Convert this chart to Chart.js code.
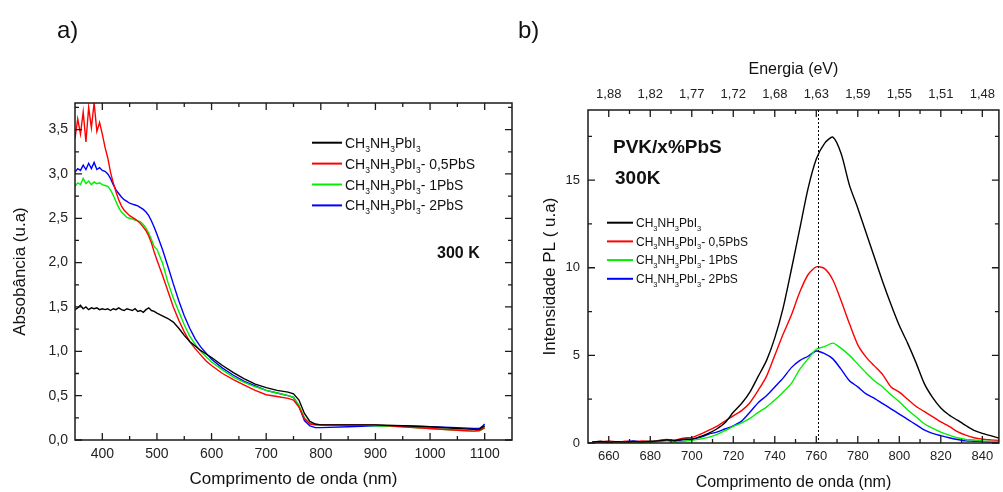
<!DOCTYPE html>
<html>
<head>
<meta charset="utf-8">
<script src="https://cdn.jsdelivr.net/npm/chart.js@4.4.1/dist/chart.umd.min.js"></script>
<style>
  html, body { margin: 0; padding: 0; background: #fff; overflow: hidden; }
  canvas { position: absolute; top: 0; }
  #absChart { left: 0; }
  #plChart { left: 505px; }
</style>
</head>
<body>
<canvas id="absChart" width="520" height="492"></canvas>
<canvas id="plChart" width="498" height="492"></canvas>
<script>
// ---- panel a) absorbance ----
var absWavelength = [350,355,360,365,370,375,380,385,390,395,400,405,410,415,420,425,430,435,440,445,
    450,455,460,465,470,475,480,485,490,495,500,510,520,530,540,550,560,570,580,590,600,
    620,640,660,680,700,720,740,750,760,770,780,790,800,850,900,950,1000,1050,1080,1090,1095,1100];
var absPure = [1.47,1.49,1.52,1.48,1.50,1.47,1.49,1.48,1.49,1.47,1.48,1.47,1.48,1.46,1.48,1.47,1.49,1.47,1.46,1.48,
    1.47,1.46,1.48,1.45,1.46,1.44,1.47,1.49,1.46,1.45,1.43,1.40,1.37,1.33,1.26,1.18,1.11,1.06,1.01,0.97,0.93,
    0.84,0.76,0.69,0.63,0.59,0.56,0.54,0.52,0.45,0.30,0.21,0.18,0.17,0.17,0.17,0.16,0.15,0.13,0.12,0.12,0.14,0.16];
var absPbS05 = [3.40,3.62,3.45,3.70,3.36,3.75,3.52,3.80,3.48,3.58,3.45,3.30,3.18,3.02,2.90,2.80,2.71,2.64,2.59,2.56,
    2.53,2.51,2.49,2.47,2.44,2.40,2.36,2.30,2.22,2.12,2.03,1.86,1.68,1.50,1.35,1.22,1.11,1.03,0.96,0.89,0.84,
    0.75,0.68,0.62,0.56,0.51,0.49,0.47,0.45,0.37,0.24,0.18,0.17,0.17,0.17,0.17,0.15,0.13,0.11,0.10,0.11,0.12,0.14];
var absPbS1 = [2.86,2.90,2.88,2.95,2.89,2.92,2.88,2.91,2.89,2.90,2.88,2.87,2.86,2.82,2.76,2.69,2.62,2.57,2.54,2.51,
    2.50,2.49,2.48,2.47,2.46,2.43,2.39,2.33,2.26,2.18,2.15,2.00,1.78,1.60,1.45,1.30,1.17,1.08,1.00,0.94,0.88,
    0.79,0.71,0.65,0.60,0.56,0.53,0.50,0.48,0.39,0.25,0.19,0.17,0.17,0.17,0.16,0.15,0.13,0.11,0.10,0.10,0.12,0.14];
var absPbS2 = [3.02,3.06,3.04,3.10,3.05,3.12,3.06,3.13,3.05,3.07,3.04,3.03,3.00,2.95,2.88,2.82,2.78,2.74,2.71,2.69,
    2.67,2.66,2.65,2.64,2.62,2.60,2.57,2.53,2.47,2.40,2.32,2.15,1.96,1.76,1.57,1.40,1.26,1.14,1.05,0.98,0.91,
    0.81,0.73,0.66,0.61,0.56,0.53,0.50,0.48,0.38,0.22,0.16,0.14,0.14,0.15,0.16,0.16,0.15,0.14,0.13,0.13,0.15,0.18];
var absXTicks = [400,500,600,700,800,900,1000,1100];
var absXLabels = ["400","500","600","700","800","900","1000","1100"];
var absXMinor = [450,550,650,750,850,950,1050];
var absYTicks = [0,0.5,1,1.5,2,2.5,3,3.5];
var absYLabels = ["0,0","0,5","1,0","1,5","2,0","2,5","3,0","3,5"];
var absYMinor = [0.25,0.75,1.25,1.75,2.25,2.75,3.25,3.75];

// ---- panel b) photoluminescence ----
var plWavelength = [652,656,660,664,668,672,676,680,684,688,692,696,700,704,708,712,716,720,724,728,
    732,736,740,744,748,752,756,760,764,768,772,776,780,784,788,792,796,800,804,808,
    812,816,820,824,828,832,836,840,844,848];
var plPure = [0.05,0.10,0.04,0.08,0.05,0.09,0.06,0.10,0.12,0.18,0.14,0.22,0.22,0.36,0.55,0.80,1.15,1.75,2.25,2.90,
    3.80,4.70,6.00,7.70,9.90,12.20,14.50,16.20,17.10,17.45,16.50,14.70,13.40,12.00,10.60,9.20,7.90,6.70,5.70,4.60,
    3.40,2.60,2.00,1.60,1.30,1.00,0.72,0.55,0.42,0.28];
var plPbS05 = [0.08,0.05,0.12,0.06,0.10,0.07,0.12,0.08,0.15,0.20,0.16,0.28,0.32,0.50,0.72,0.95,1.25,1.55,1.85,2.30,
    3.00,3.80,5.00,6.20,7.30,8.60,9.60,10.05,9.95,9.30,8.10,6.80,5.60,4.90,4.40,3.90,3.20,2.90,2.50,2.10,
    1.80,1.50,1.20,0.95,0.65,0.45,0.30,0.22,0.18,0.15];
var plPbS1 = [0.03,0.08,0.05,0.02,0.07,0.04,0.06,0.03,0.08,0.12,0.05,0.10,0.15,0.22,0.32,0.48,0.70,0.95,1.15,1.40,
    1.75,2.05,2.45,2.90,3.40,4.20,4.80,5.35,5.50,5.70,5.40,5.00,4.50,4.00,3.55,3.20,2.75,2.35,1.90,1.50,
    1.10,0.85,0.62,0.45,0.30,0.20,0.18,0.12,0.10,0.08];
var plPbS2 = [0.06,0.03,0.07,0.04,0.08,0.12,0.05,0.06,0.10,0.15,0.10,0.18,0.22,0.32,0.50,0.62,0.80,0.98,1.25,1.75,
    2.30,2.70,3.20,3.70,4.30,4.70,4.95,5.25,5.10,4.80,4.20,3.55,3.20,2.80,2.55,2.25,1.95,1.65,1.35,1.05,
    0.75,0.55,0.42,0.30,0.20,0.12,0.10,0.08,0.05,0.06];
var plXTicks = [660,680,700,720,740,760,780,800,820,840];
var plXLabels = ["660","680","700","720","740","760","780","800","820","840"];
var plXMinor = [670,690,710,730,750,770,790,810,830];
var plEnergyLabels = ["1,88","1,82","1,77","1,72","1,68","1,63","1,59","1,55","1,51","1,48"];
var plYTicks = [0,5,10,15];
var plYLabels = ["0","5","10","15"];
var plYMinor = [2.5,7.5,12.5,17.5];
var plPeakLine = 761;

var seriesNames = ["CH_3NH_3PbI_3", "CH_3NH_3PbI_3- 0,5PbS", "CH_3NH_3PbI_3- 1PbS", "CH_3NH_3PbI_3- 2PbS"];
var seriesColors = ["#000000", "#ff0000", "#00ee00", "#0000ff"];

var FONT = "'Liberation Sans', Arial, sans-serif";
Chart.defaults.font.family = FONT;
Chart.defaults.color = "#222";

function buildSets(xs, list, tension) {
    return list.map(function (ys, i) {
        return {
            label: seriesNames[i].replace(/_/g, ""),
            data: xs.map(function (x, j) { return { x: x, y: ys[j] }; }),
            borderColor: seriesColors[i],
            borderWidth: 1.4,
            pointRadius: 0,
            fill: false,
            tension: tension
        };
    });
}

function setTicks(values) {
    return function (scale) {
        scale.ticks = values.map(function (v) { return { value: v }; });
    };
}

function drawRich(ctx, text, x, y, size, subSize, shift) {
    var parts = text.split("_");
    parts.forEach(function (p, i) {
        if (i > 0) {
            ctx.font = subSize + "px " + FONT;
            ctx.fillText(p.charAt(0), x, y + shift);
            x += ctx.measureText(p.charAt(0)).width;
            p = p.slice(1);
        }
        ctx.font = size + "px " + FONT;
        ctx.fillText(p, x, y);
        x += ctx.measureText(p).width;
    });
}

// inward ticks on all four sides, frame, marker line
var frameAxes = {
    id: "frameAxes",
    afterDatasetsDraw: function (chart, args, opts) {
        var ctx = chart.ctx, a = chart.chartArea;
        var xs = chart.scales.x, ys = chart.scales.y;
        ctx.save();
        if (opts.marker !== undefined) {
            var mx = Math.round(xs.getPixelForValue(opts.marker)) + 0.5;
            ctx.strokeStyle = "#000";
            ctx.lineWidth = 1;
            ctx.setLineDash([2, 2]);
            ctx.beginPath();
            ctx.moveTo(mx, a.top);
            ctx.lineTo(mx, a.bottom);
            ctx.stroke();
            ctx.setLineDash([]);
        }
        ctx.strokeStyle = "#1a1a1a";
        ctx.lineWidth = 1.3;
        ctx.beginPath();
        function vt(v, len) {
            var px = xs.getPixelForValue(v);
            ctx.moveTo(px, a.bottom); ctx.lineTo(px, a.bottom - len);
            ctx.moveTo(px, a.top); ctx.lineTo(px, a.top + len);
        }
        function ht(v, len) {
            var py = ys.getPixelForValue(v);
            ctx.moveTo(a.left, py); ctx.lineTo(a.left + len, py);
            ctx.moveTo(a.right, py); ctx.lineTo(a.right - len, py);
        }
        opts.xMajor.forEach(function (v) { vt(v, 7); });
        opts.xMinor.forEach(function (v) { vt(v, 4); });
        opts.yMajor.forEach(function (v) { ht(v, 7); });
        opts.yMinor.forEach(function (v) { ht(v, 4); });
        ctx.stroke();
        ctx.lineWidth = 1.5;
        ctx.strokeRect(a.left, a.top, a.right - a.left, a.bottom - a.top);
        ctx.restore();
    }
};

var panelText = {
    id: "panelText",
    afterDraw: function (chart, args, opts) {
        var ctx = chart.ctx;
        ctx.save();
        ctx.fillStyle = "#111";
        ctx.textBaseline = "alphabetic";
        ctx.textAlign = "left";
        opts.notes.forEach(function (t) {
            ctx.font = t.font;
            ctx.fillText(t.text, t.x, t.y);
        });
        var lg = opts.legend;
        seriesNames.forEach(function (name, i) {
            var y = lg.y + i * lg.step;
            ctx.strokeStyle = seriesColors[i];
            ctx.lineWidth = 2;
            ctx.beginPath();
            ctx.moveTo(lg.x, y);
            ctx.lineTo(lg.x + lg.len, y);
            ctx.stroke();
            ctx.fillStyle = "#111";
            drawRich(ctx, name, lg.x + lg.len + lg.gap, y + lg.base, lg.size, lg.sub, lg.shift);
        });
        ctx.restore();
    }
};

var absChart = new Chart(document.getElementById("absChart"), {
    type: "line",
    data: { datasets: buildSets(absWavelength, [absPure, absPbS05, absPbS1, absPbS2], 0) },
    options: {
        responsive: false,
        animation: false,
        layout: { padding: { top: 103, right: 8 } },
        plugins: {
            legend: { display: false },
            tooltip: { enabled: false },
            frameAxes: { xMajor: absXTicks, xMinor: absXMinor, yMajor: absYTicks, yMinor: absYMinor },
            panelText: {
                notes: [
                    { text: "a)", x: 57, y: 38, font: "24px " + FONT },
                    { text: "300 K", x: 437, y: 258, font: "bold 16px " + FONT }
                ],
                legend: { x: 312, y: 142.7, step: 20.9, len: 30, gap: 3, base: 5, size: 14, sub: 8.5, shift: 4 }
            }
        },
        scales: {
            x: {
                type: "linear", min: 350, max: 1150,
                grid: { display: false, drawTicks: false },
                border: { display: false },
                afterBuildTicks: setTicks(absXTicks),
                afterFit: function (s) { s.height = 52; },
                ticks: { font: { size: 14 }, padding: 6, maxRotation: 0, autoSkip: false,
                         callback: function (v, i) { return absXLabels[i]; } },
                title: { display: true, text: "Comprimento de onda (nm)", color: "#111",
                         font: { size: 17 }, padding: { top: 0, bottom: 2 } }
            },
            y: {
                type: "linear", min: 0, max: 3.8,
                grid: { display: false, drawTicks: false },
                border: { display: false },
                afterBuildTicks: setTicks(absYTicks),
                afterFit: function (s) { s.width = 75; },
                ticks: { font: { size: 14 }, padding: 7, autoSkip: false,
                         callback: function (v, i) { return absYLabels[i]; } },
                title: { display: true, text: "Absobância (u.a)", color: "#111",
                         font: { size: 17 }, padding: { top: 10, bottom: 0 } }
            }
        }
    },
    plugins: [frameAxes, panelText]
});

var plChart = new Chart(document.getElementById("plChart"), {
    type: "line",
    data: { datasets: buildSets(plWavelength, [plPure, plPbS05, plPbS1, plPbS2], 0.25) },
    options: {
        responsive: false,
        animation: false,
        layout: { padding: { right: 1 } },
        plugins: {
            legend: { display: false },
            tooltip: { enabled: false },
            frameAxes: { xMajor: plXTicks, xMinor: plXMinor, yMajor: plYTicks, yMinor: plYMinor, marker: plPeakLine },
            panelText: {
                notes: [
                    { text: "b)", x: 13, y: 38, font: "24px " + FONT },
                    { text: "PVK/x%PbS", x: 108, y: 152.5, font: "bold 19px " + FONT },
                    { text: "300K", x: 110, y: 184, font: "bold 19px " + FONT }
                ],
                legend: { x: 102, y: 222.7, step: 18.7, len: 26, gap: 3, base: 4.3, size: 12, sub: 7.5, shift: 3.5 }
            }
        },
        scales: {
            x: {
                type: "linear", min: 650, max: 848,
                grid: { display: false, drawTicks: false },
                border: { display: false },
                afterBuildTicks: setTicks(plXTicks),
                afterFit: function (s) { s.height = 49; },
                ticks: { font: { size: 13 }, padding: 6, maxRotation: 0, autoSkip: false,
                         callback: function (v, i) { return plXLabels[i]; } },
                title: { display: true, text: "Comprimento de onda (nm)", color: "#111",
                         font: { size: 16 }, padding: { top: 0, bottom: 0 } }
            },
            x2: {
                type: "linear", axis: "x", position: "top", min: 650, max: 848,
                grid: { display: false, drawTicks: false },
                border: { display: false },
                afterBuildTicks: setTicks(plXTicks),
                afterFit: function (s) { s.height = 110; },
                ticks: { font: { size: 13 }, padding: 8, maxRotation: 0, autoSkip: false,
                         callback: function (v, i) { return plEnergyLabels[i]; } },
                title: { display: true, text: "Energia (eV)", color: "#111",
                         font: { size: 16 }, padding: { top: 60, bottom: 0 } }
            },
            y: {
                type: "linear", min: 0, max: 19,
                grid: { display: false, drawTicks: false },
                border: { display: false },
                afterBuildTicks: setTicks(plYTicks),
                afterFit: function (s) { s.width = 83; },
                ticks: { font: { size: 13 }, padding: 8, autoSkip: false,
                         callback: function (v, i) { return plYLabels[i]; } },
                title: { display: true, text: "Intensidade PL ( u.a)", color: "#111",
                         font: { size: 17 }, padding: { top: 35, bottom: 0 } }
            }
        }
    },
    plugins: [frameAxes, panelText]
});
</script>
</body>
</html>
